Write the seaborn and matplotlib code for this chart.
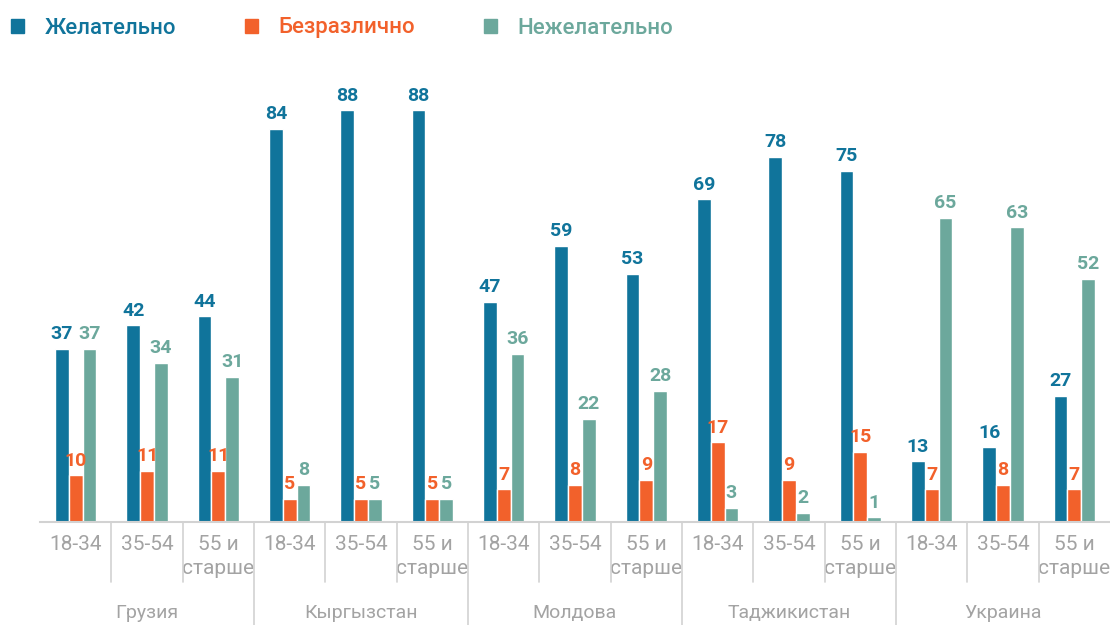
import matplotlib
matplotlib.use("Agg")
import matplotlib.pyplot as plt
import matplotlib.patches as mpatches
import seaborn as sns
import pandas as pd

countries = ["Грузия", "Кыргызстан", "Молдова", "Таджикистан", "Украина"]
ages = ["18-34", "35-54", "55 и\nстарше"]
series = ["Желательно", "Безразлично", "Нежелательно"]
desirable = [37, 42, 44, 84, 88, 88, 47, 59, 53, 69, 78, 75, 13, 16, 27]
indifferent = [10, 11, 11, 5, 5, 5, 7, 8, 9, 17, 9, 15, 7, 8, 7]
undesirable = [37, 34, 31, 8, 5, 5, 36, 22, 28, 3, 2, 1, 65, 63, 52]
colors = ["#10749b", "#f2612b", "#6ca89c"]

slots = [f"{c}|{a}" for c in countries for a in ages]
rows = []
for name, vals in zip(series, [desirable, indifferent, undesirable]):
    for s, v in zip(slots, vals):
        rows.append({"slot": s, "series": name, "value": v})
df = pd.DataFrame(rows)

sns.set_style("white")
plt.rcParams["font.family"] = ["Roboto", "DejaVu Sans"]

fig = plt.figure(figsize=(11.1, 6.25), dpi=100)
ax = fig.add_axes([40 / 1110, (625 - 522) / 625, 1 - 40 / 1110, 468 / 625])

sns.barplot(data=df, x="slot", y="value", hue="series", order=slots,
            hue_order=series, palette=colors, width=0.58, gap=0,
            saturation=1, legend=False, ax=ax)

for cont, col in zip(ax.containers, colors):
    ax.bar_label(cont, padding=4, color=col, fontsize=14, fontweight="bold")

ax.set_xlim(-0.5, len(slots) - 0.5)
ax.set_ylim(0, 100)
ax.set_xlabel("")
ax.set_ylabel("")
ax.set_yticks([])
ax.set_xticks(range(len(slots)))
ax.set_xticklabels([a for c in countries for a in ages], color="#a3a3a3",
                   fontsize=15, linespacing=1.4, va="top")
ax.tick_params(axis="x", length=0, pad=9)
for side in ["top", "left", "right"]:
    ax.spines[side].set_visible(False)
ax.spines["bottom"].set_color("#d2d2d2")
ax.spines["bottom"].set_linewidth(1.5)

trans = ax.get_xaxis_transform()
for i in range(1, len(slots)):
    x = i - 0.5
    y_end = -0.22 if i % 3 == 0 else -0.128
    ax.plot([x, x], [0, y_end], transform=trans, color="#d2d2d2", lw=1.2,
            clip_on=False)

for k, c in enumerate(countries):
    ax.text(3 * k + 1, -0.195, c, transform=trans, ha="center", va="center",
            fontsize=14, color="#a3a3a3")

handles = [mpatches.Patch(color=col, label=s) for s, col in zip(series, colors)]
fig.legend(handles=handles, loc="upper left", bbox_to_anchor=(11 / 1110, 0.972),
           ncol=3, frameon=False, borderpad=0, borderaxespad=0,
           prop={"size": 16, "weight": "medium"}, handlelength=0.6,
           handleheight=0.6, handletextpad=0.9, columnspacing=3.1,
           labelcolor=colors)

fig.savefig("out.png", dpi=100)
